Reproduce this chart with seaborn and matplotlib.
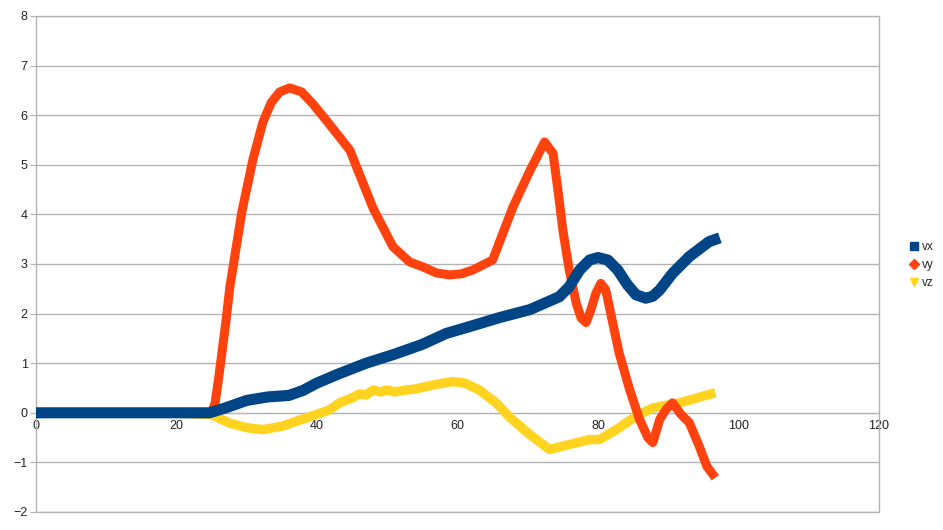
import matplotlib
matplotlib.use("Agg")
import seaborn as sns
from matplotlib import pyplot as plt
from matplotlib.lines import Line2D
from matplotlib.patches import Rectangle

# values
vx_t = [0, 10, 20, 24.7, 27, 30, 33, 36, 38, 40, 43, 47, 51, 55, 58.4, 62, 66, 70.3, 74.5,
        75.9, 77.4, 78.8, 80.0, 81.4, 82.8, 84.2, 85.4, 86.8, 87.8, 88.8, 90.6, 93.0, 95.8, 96.6]
vx_v = [0, 0, 0, 0, 0.1, 0.25, 0.32, 0.35, 0.45, 0.6, 0.78, 1.0, 1.18, 1.38, 1.6, 1.75, 1.92, 2.08, 2.34,
        2.54, 2.88, 3.08, 3.13, 3.08, 2.88, 2.58, 2.38, 2.31, 2.35, 2.48, 2.81, 3.15, 3.45, 3.49]

vy_t = [0, 10, 20, 25, 25.5, 26, 27, 27.6, 29.3, 30.9, 32.3, 33.5, 34.7, 36.1, 37.8, 39.4, 41.3,
        43.2, 44.7, 46.1, 48.0, 50.8, 53.2, 55.1, 57, 58.9, 60.5, 62.2, 65, 67.9, 70.2, 72.4,
        73.6, 74.3, 75.0, 75.9, 76.9, 77.6, 78.3, 79.0, 79.7, 80.4, 81.1, 82.1, 83.0, 84.5, 85.9,
        87.1, 87.8, 88.8, 89.7, 90.6, 91.8, 93.0, 94.4, 95.5, 96.7]
vy_v = [0, 0, 0, 0, 0.2, 0.7, 1.8, 2.54, 4.05, 5.12, 5.86, 6.26, 6.47, 6.55, 6.47, 6.23, 5.90,
        5.56, 5.29, 4.79, 4.12, 3.35, 3.04, 2.94, 2.82, 2.78, 2.8, 2.88, 3.08, 4.15, 4.85, 5.46,
        5.23, 4.49, 3.68, 2.88, 2.21, 1.91, 1.82, 2.08, 2.41, 2.61, 2.48, 1.81, 1.21, 0.47, -0.13,
        -0.50, -0.60, -0.13, 0.07, 0.2, -0.03, -0.2, -0.67, -1.08, -1.31]

vz_t = [0, 10, 20, 25, 27.6, 30, 32.3, 35, 37.1, 40, 41.8, 43.2, 45, 46, 47, 48, 49, 50, 51, 52.7,
        54, 56.5, 59.3, 61, 63.1, 65.5, 67.5, 70.3, 73.1, 75.9, 78.8, 80.2, 82.6, 85.4, 87.8, 91.6,
        95.8, 96.7]
vz_v = [0, 0, 0, -0.04, -0.21, -0.3, -0.34, -0.27, -0.17, -0.03, 0.06, 0.2, 0.3, 0.38, 0.36, 0.46,
        0.42, 0.46, 0.42, 0.46, 0.48, 0.56, 0.63, 0.6, 0.46, 0.2, -0.1, -0.44, -0.74, -0.64, -0.54,
        -0.54, -0.34, -0.07, 0.1, 0.2, 0.37, 0.40]

names = ["vx", "vy", "vz"]
colors = {"vx": "#004586", "vy": "#ff420e", "vz": "#ffd320"}

sns.set_style("white")
plt.rcParams["font.family"] = ["Liberation Sans", "DejaVu Sans"]

fig = plt.figure(figsize=(9.43, 5.30), dpi=100)
ax = fig.add_axes([36 / 943, 1 - 512 / 530, (879 - 36) / 943, (512 - 16) / 530])

sns.lineplot(x=vz_t, y=vz_v, ax=ax, color=colors["vz"], linewidth=6.8, zorder=3,
             solid_capstyle="butt")
sns.lineplot(x=vy_t, y=vy_v, ax=ax, color=colors["vy"], linewidth=6.5, zorder=4,
             solid_capstyle="butt")
sns.lineplot(x=vx_t, y=vx_v, ax=ax, color=colors["vx"], linewidth=8, zorder=5,
             solid_capstyle="projecting")

ax.set_xlim(0, 120)
ax.set_ylim(-2, 8)
ax.set_xticks(range(0, 121, 20))
ax.set_yticks(range(-2, 9))
ax.grid(axis="y", color="#b3b3b3", linewidth=1)
ax.grid(axis="x", visible=False)

for s in ["top", "right", "left"]:
    ax.spines[s].set_visible(False)
ax.spines["bottom"].set_position(("data", 0))
ax.spines["bottom"].set_color("#b3b3b3")
ax.add_patch(Rectangle((0, 0), 1, 1, transform=ax.transAxes, fill=False,
                       edgecolor="#b3b3b3", linewidth=1, zorder=1, clip_on=False))

ax.tick_params(axis="x", direction="out", length=4, color="#b3b3b3", labelsize=9, pad=1, labelcolor="#222222")
ax.tick_params(axis="y", direction="out", length=4, color="#b3b3b3", labelsize=9, pad=2, labelcolor="#222222", left=True)
ax.set_xlabel("")
ax.set_ylabel("")

handles = [
    Line2D([], [], linestyle="none", marker="s", markersize=6, color=colors["vx"]),
    Line2D([], [], linestyle="none", marker="D", markersize=5, color=colors["vy"]),
    Line2D([], [], linestyle="none", marker="v", markersize=6, color=colors["vz"]),
]
fig.legend(handles, names, loc="center left", bbox_to_anchor=(903 / 943, 1 - 265 / 530),
           frameon=False, fontsize=8.5, handlelength=0.8, handletextpad=0.3,
           labelspacing=0.5, borderpad=0)

fig.savefig("out.png", dpi=100)
